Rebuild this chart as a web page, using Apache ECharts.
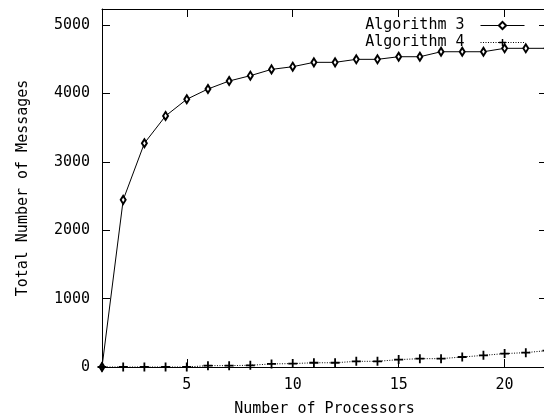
<!DOCTYPE html>
<html>
<head>
<meta charset="utf-8">
<script src="https://cdn.jsdelivr.net/npm/echarts@6/dist/echarts.min.js"></script>
<style>html,body{margin:0;padding:0;background:#fff}#c{width:544px;height:418px}</style>
</head>
<body>
<div id="c"></div>
<script>
const processors = [1,2,3,4,5,6,7,8,9,10,11,12,13,14,15,16,17,18,19,20,21,22];
const algorithm3 = [0,2444,3272,3671,3915,4065,4182,4260,4352,4391,4455,4455,4499,4499,4537,4537,4610,4610,4610,4660,4660,4660];
const algorithm4 = [0,0,0,0,0,20,20,25,45,50,62,62,83,83,108,122,122,146,170,196,210,240];
const xTicks = [5,10,15,20];
const yTicks = [0,1000,2000,3000,4000,5000];
const seriesNames = ['Algorithm 3','Algorithm 4'];
const xTitle = 'Number of Processors';
const yTitle = 'Total Number of Messages';

const FONT = 'DejaVu Sans Mono';
const FS = 15;
const plus = 'path://M4,0h2v4h4v2h-4v4h-2v-4h-4v-2h4z';

const chart = echarts.init(document.getElementById('c'), null, {renderer:'canvas'});
const axisLine = {show:true, onZero:false, lineStyle:{color:'#000', width:1}};
const tick = (vals) => ({show:true, inside:true, length:8, customValues:vals, lineStyle:{color:'#000', width:1}});
chart.setOption({
  animation:false,
  backgroundColor:'#fff',
  grid:{left:102, top:9, bottom:51, right:-3, containLabel:false, outerBoundsMode:'none'},
  legend:{
    orient:'vertical', align:'right', right:19, top:18, padding:0,
    itemWidth:44, itemHeight:9, itemGap:2,
    lineStyle:{width:1},
    textStyle:{fontFamily:FONT, fontSize:FS, color:'#000', padding:[0,11,0,0], lineHeight:14},
    data:seriesNames
  },
  xAxis:[
    {type:'value', min:1, max:22, position:'bottom',
     axisLine:axisLine, axisTick:tick(xTicks), splitLine:{show:false},
     axisLabel:{customValues:xTicks, margin:11, fontFamily:FONT, fontSize:FS, color:'#000'},
     name:xTitle, nameLocation:'middle', nameGap:35,
     nameTextStyle:{fontFamily:FONT, fontSize:FS, color:'#000'}},
    {type:'value', min:1, max:22, position:'top',
     axisLine:axisLine, axisTick:tick(xTicks), splitLine:{show:false}, axisLabel:{show:false}}
  ],
  yAxis:[
    {type:'value', min:0, max:5235, position:'left',
     axisLine:axisLine, axisTick:tick(yTicks), splitLine:{show:false},
     axisLabel:{customValues:yTicks, margin:12, fontFamily:FONT, fontSize:FS, color:'#000', formatter:v=>String(v)},
     name:yTitle, nameLocation:'middle', nameGap:71, nameRotate:90,
     nameTextStyle:{fontFamily:FONT, fontSize:FS, color:'#000'}},
    {type:'value', min:0, max:5235, position:'right',
     axisLine:axisLine, axisTick:tick(yTicks), splitLine:{show:false}, axisLabel:{show:false}}
  ],
  series:[
    {name:seriesNames[0], type:'line', data:processors.map((x,i)=>[x,algorithm3[i]]),
     symbol:'emptyDiamond', symbolSize:[5,8], showAllSymbol:true,
     lineStyle:{color:'#000', width:1}, itemStyle:{color:'#000', borderWidth:1}},
    {name:seriesNames[1], type:'line', data:processors.map((x,i)=>[x,algorithm4[i]]),
     symbol:plus, symbolSize:9, showAllSymbol:true,
     lineStyle:{color:'#000', width:1, type:[1,1.5]}, itemStyle:{color:'#000'}}
  ]
});
</script>
</body>
</html>
